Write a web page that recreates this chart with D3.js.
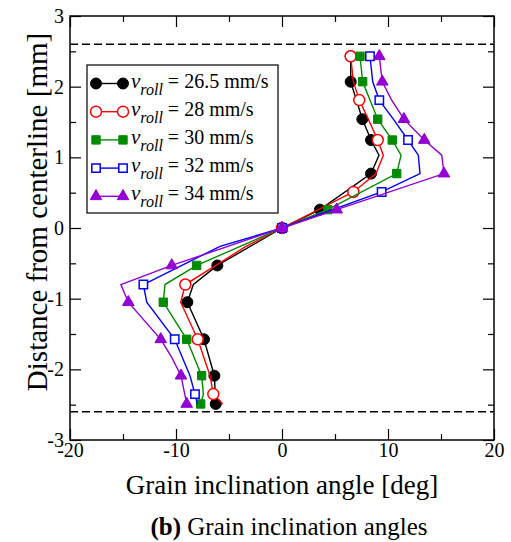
<!DOCTYPE html>
<html>
<head>
<meta charset="utf-8">
<script src="https://cdn.jsdelivr.net/npm/d3@7"></script>
<style>
  html, body { margin: 0; padding: 0; background: #fff; }
  svg { display: block; }
  text { font-family: "Liberation Serif", "DejaVu Serif", serif; fill: #000; }
</style>
</head>
<body>
<svg id="chart" width="511" height="542"></svg>
<script>
// Distance from the centerline [mm] at which profile vertices sit
const depths = [2.43, 2.07, 1.81, 1.54, 1.245, 1.03, 0.77, 0.51, 0.26, 0,
                -0.26, -0.53, -0.8, -1.05, -1.31, -1.575, -1.83, -2.09, -2.35, -2.49];

// Grain inclination angle [deg] per roll speed (null = no vertex at that depth)
const angle265 = [6.48, 6.48, null, 7.58, 8.4, 9.15, 8.4, null, 3.58, 0,
                  null, -6.1, -8.36, -8.93, null, -7.36, null, -6.38, null, -6.25];
const angle28  = [6.48, 6.73, 7.29, 8.14, 9.03, 9.56, 8.87, 6.73, null, 0,
                  -3.4, null, -9.12, -9.56, null, -7.95, null, -6.79, -6.48, -5.6];
const angle30  = [7.36, 7.61, null, 9.03, 10.4, 11.23, 10.82, null, 4.31, 0,
                  null, -8.05, -11.04, -11.2, null, -8.99, null, -7.58, -7.42, -7.67];
const angle32  = [8.3, 8.56, 9.18, 10.5, 11.89, 12.86, 13.02, 9.4, null, 0,
                  -5.85, null, -13.08, -12.76, null, -10.12, null, -8.68, -8.21, -7.99];
const angle34  = [9.18, 9.46, 10.35, 11.5, 13.42, 15.07, 15.28, null, 5.16, 0,
                  null, -10.4, -15.2, -14.5, null, -11.44, -10.4, -9.53, null, -8.99];

// Depths carrying a symbol
const marksOdd  = [2.43, 2.07, 1.54, 1.245, 0.77, 0.26, 0, -0.53, -1.05, -1.575, -2.09, -2.49];
const marksEven = [2.43, 1.81, 1.245, 0.51, 0, -0.8, -1.575, -2.35];

const speeds = ["26.5", "28", "30", "32", "34"];
const xTicks = [-20, -10, 0, 10, 20];
const yTicks = [-3, -2, -1, 0, 1, 2, 3];
const boundary = [2.6, -2.6];

const series = [
  { speed: speeds[0], angles: angle265, marks: marksOdd,  color: "#000000", shape: "circle", fill: true },
  { speed: speeds[1], angles: angle28,  marks: marksEven, color: "#ff0000", shape: "circle", fill: false },
  { speed: speeds[2], angles: angle30,  marks: marksOdd,  color: "#008b00", shape: "square", fill: true },
  { speed: speeds[3], angles: angle32,  marks: marksEven, color: "#0000ff", shape: "square", fill: false },
  { speed: speeds[4], angles: angle34,  marks: marksOdd,  color: "#9400d3", shape: "triangle", fill: true }
];

const svg = d3.select("#chart");
const L = 70, R = 494, T = 16, B = 440;
const x = d3.scaleLinear().domain([-20, 20]).range([L, R]);
const y = d3.scaleLinear().domain([-3, 3]).range([B, T]);

const fmt = d => String(d);

// boundary dashed lines
svg.selectAll("line.bound").data(boundary).join("line")
  .attr("x1", x(-20)).attr("x2", x(20))
  .attr("y1", d => y(d)).attr("y2", d => y(d))
  .attr("stroke", "#000").attr("stroke-width", 1.5)
  .attr("stroke-dasharray", "8,4");

// profiles
const line = d3.line().x(d => x(d[0])).y(d => y(d[1]));
const symbol = {
  circle: d3.symbol().type(d3.symbolCircle).size(95),
  square: d3.symbol().type(d3.symbolSquare).size(70),
  triangle: d3.symbol().type(d3.symbolTriangle).size(58)
};

function drawMark(g, s, px, py) {
  g.append("path")
    .attr("d", symbol[s.shape]())
    .attr("transform", `translate(${px},${py})`)
    .attr("fill", s.fill ? s.color : "#fff")
    .attr("stroke", s.color)
    .attr("stroke-width", s.fill ? 1 : 1.5);
}

series.forEach(s => {
  const pts = depths.map((d, i) => [s.angles[i], d]).filter(p => p[0] !== null);
  const g = svg.append("g");
  g.append("path").datum(pts)
    .attr("d", line)
    .attr("fill", "none")
    .attr("stroke", s.color)
    .attr("stroke-width", 1.4);
  pts.filter(p => s.marks.includes(p[1]))
    .forEach(p => drawMark(g, s, x(p[0]), y(p[1])));
});

// axes with inward ticks on all four sides
const minorX = d3.range(-20, 20.01, 5).filter(v => !xTicks.includes(v));
const minorY = d3.range(-3, 3.01, 0.5).filter(v => !yTicks.includes(v));

function styleAxis(g) {
  g.select(".domain").remove();
  g.selectAll(".tick line").attr("stroke", "#000").attr("stroke-width", 1.2);
  g.selectAll("text").style("font-family", "'Liberation Serif', serif").style("font-size", "20px").attr("fill", "#000");
}

svg.append("g").attr("transform", `translate(0,${B})`)
  .call(d3.axisBottom(x).tickValues(xTicks).tickSize(-11).tickPadding(3).tickFormat(fmt))
  .call(styleAxis);
svg.append("g").attr("transform", `translate(0,${B})`)
  .call(d3.axisBottom(x).tickValues(minorX).tickSize(-6).tickFormat(""))
  .call(styleAxis);
svg.append("g").attr("transform", `translate(0,${T})`)
  .call(d3.axisTop(x).tickValues(xTicks).tickSize(-11).tickFormat(""))
  .call(styleAxis);
svg.append("g").attr("transform", `translate(0,${T})`)
  .call(d3.axisTop(x).tickValues(minorX).tickSize(-6).tickFormat(""))
  .call(styleAxis);

svg.append("g").attr("transform", `translate(${L},0)`)
  .call(d3.axisLeft(y).tickValues(yTicks).tickSize(-11).tickPadding(6).tickFormat(fmt))
  .call(styleAxis);
svg.append("g").attr("transform", `translate(${L},0)`)
  .call(d3.axisLeft(y).tickValues(minorY).tickSize(-6).tickFormat(""))
  .call(styleAxis);
svg.append("g").attr("transform", `translate(${R},0)`)
  .call(d3.axisRight(y).tickValues(yTicks).tickSize(-11).tickFormat(""))
  .call(styleAxis);
svg.append("g").attr("transform", `translate(${R},0)`)
  .call(d3.axisRight(y).tickValues(minorY).tickSize(-6).tickFormat(""))
  .call(styleAxis);

// frame
svg.append("rect")
  .attr("x", L).attr("y", T).attr("width", R - L).attr("height", B - T)
  .attr("fill", "none").attr("stroke", "#000").attr("stroke-width", 1.5);

// legend
const lg = svg.append("g");
lg.append("rect")
  .attr("x", 87).attr("y", 65).attr("width", 191).attr("height", 148)
  .attr("fill", "#fff").attr("stroke", "#000").attr("stroke-width", 1.2);
series.forEach((s, i) => {
  const cy = 83.5 + i * 28.2;
  lg.append("line").attr("x1", 96).attr("x2", 123).attr("y1", cy).attr("y2", cy)
    .attr("stroke", s.color).attr("stroke-width", 1.4);
  drawMark(lg, s, 96, cy);
  drawMark(lg, s, 123, cy);
  const t = lg.append("text").attr("x", 131).attr("y", cy + 4).style("font-size", "21px");
  t.append("tspan").attr("font-style", "italic").text("v");
  t.append("tspan").attr("font-style", "italic").attr("dy", 7).style("font-size", "16px").text("roll");
  t.append("tspan").attr("dy", -7).style("font-size", "20px").text(" = " + s.speed + " mm/s");
});

// axis titles and caption
svg.append("text")
  .attr("x", x(0)).attr("y", 494)
  .attr("text-anchor", "middle").style("font-size", "27px")
  .text("Grain inclination angle [deg]");
svg.append("text")
  .attr("transform", "translate(47,212) rotate(-90)")
  .attr("text-anchor", "middle").style("font-size", "29px")
  .text("Distance from centerline [mm]");
const cap = svg.append("text")
  .attr("x", 289).attr("y", 535)
  .attr("text-anchor", "middle").style("font-size", "25px");
cap.append("tspan").attr("font-weight", "bold").text("(b)");
cap.append("tspan").text(" Grain inclination angles");
</script>
</body>
</html>
